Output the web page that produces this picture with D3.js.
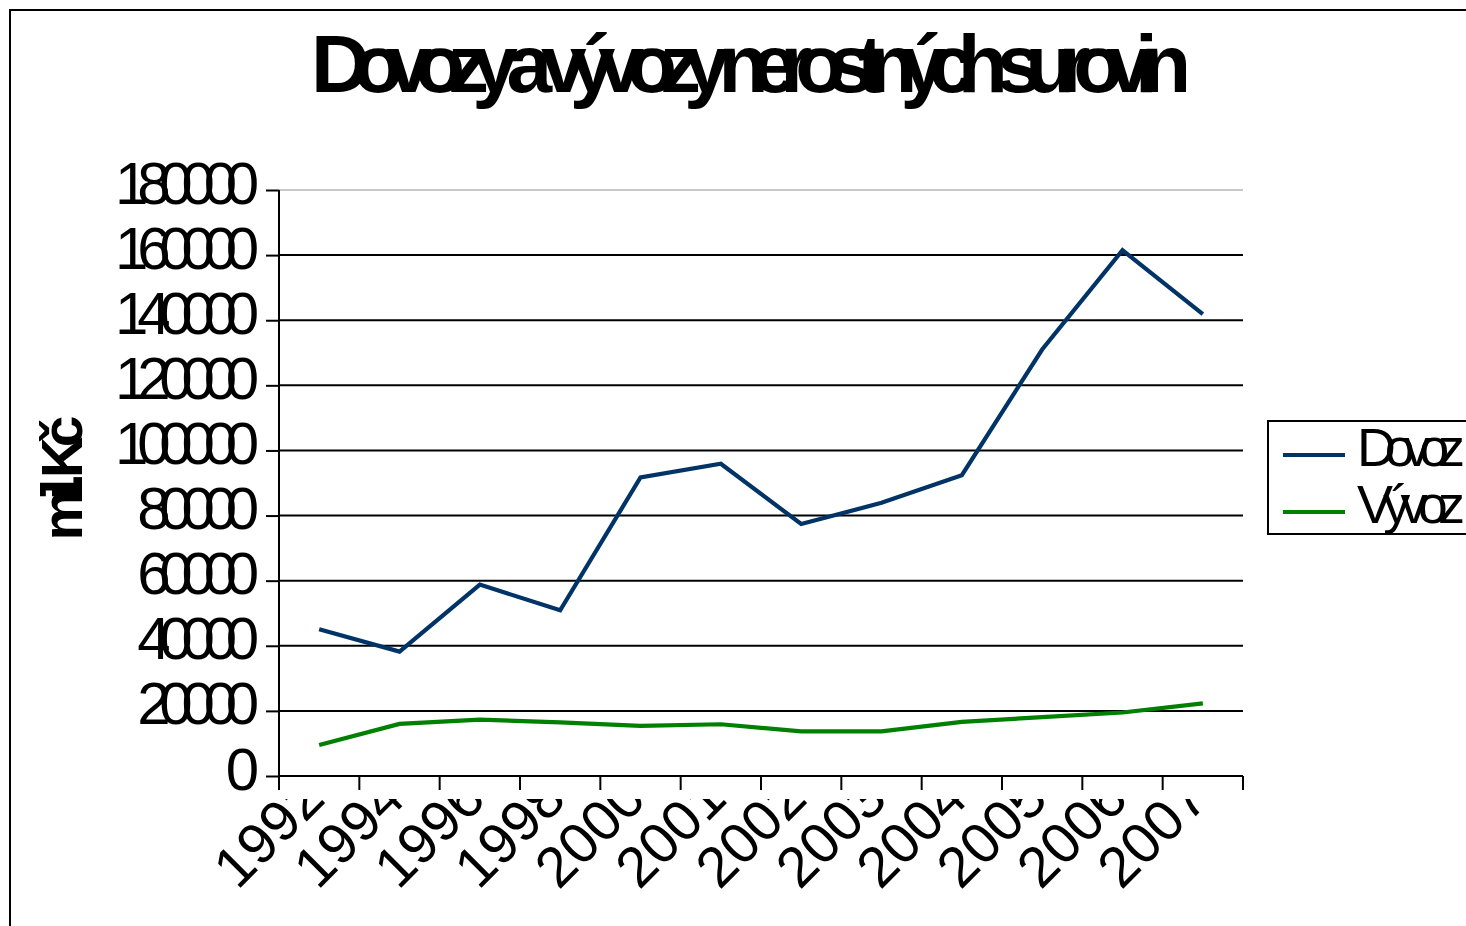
<!DOCTYPE html>
<html>
<head>
<meta charset="utf-8">
<script src="https://cdn.jsdelivr.net/npm/d3@7/dist/d3.min.js"></script>
<style>
body { margin: 0; background: #fff; }
svg { display: block; }
text { font-family: "Liberation Sans", Arial, sans-serif; fill: #000; }
</style>
</head>
<body>
<script>
var years = ["1992", "1994", "1996", "1998", "2000", "2001", "2002", "2003", "2004", "2005", "2006", "2007"];
var dovoz = [45100, 38200, 58800, 50900, 91700, 95900, 77400, 83900, 92400, 131000, 161500, 141900];
var vyvoz = [9500, 16000, 17300, 16500, 15400, 15900, 13700, 13700, 16600, 18100, 19500, 22300];
var yTicks = [0, 20000, 40000, 60000, 80000, 100000, 120000, 140000, 160000, 180000];
var seriesNames = ["Dovoz", "Vývoz"];
var seriesColors = ["#003366", "#008000"];

var w = 1466;
var h = 926;
var plotLeft = 279, plotRight = 1243, plotTop = 190, plotBottom = 776;

var svg = d3.select("body")
	.append("svg")
	.attr("width", w)
	.attr("height", h);

var x = d3.scaleBand()
	.domain(years)
	.range([plotLeft, plotRight]);

var y = d3.scaleLinear()
	.domain([0, 180000])
	.range([plotBottom, plotTop]);

// outer frame (only left and top edges fall inside the picture)
svg.append("path")
	.attr("d", "M10," + h + "V10H" + w)
	.attr("fill", "none")
	.attr("stroke", "#000")
	.attr("stroke-width", 2);

// title
svg.append("text")
	.attr("x", 751)
	.attr("y", 92)
	.attr("text-anchor", "middle")
	.attr("font-size", 82)
	.attr("font-weight", "bold")
	.attr("textLength", 880)
	.attr("lengthAdjust", "spacing")
	.text("Dovozy a vývozy nerostných surovin");

// gridlines
svg.selectAll("line.grid")
	.data(yTicks.slice(1))
	.enter()
	.append("line")
	.attr("class", "grid")
	.attr("x1", plotLeft)
	.attr("x2", plotRight)
	.attr("y1", function(d) { return y(d); })
	.attr("y2", function(d) { return y(d); })
	.attr("stroke", function(d) { return d == 180000 ? "#c8c8c8" : "#000"; })
	.attr("stroke-width", 2);

// y axis
var yAxis = svg.append("g")
	.attr("transform", "translate(" + plotLeft + ",0)")
	.call(d3.axisLeft(y).tickValues(yTicks).tickSize(13).tickFormat(d3.format("d")));
yAxis.select(".domain").attr("stroke-width", 2).attr("d", "M0," + plotTop + "V" + plotBottom);
yAxis.selectAll(".tick line").attr("stroke-width", 2);
yAxis.selectAll(".tick text")
	.attr("x", -31)
	.attr("dy", 13)
	.attr("font-size", 60)
	.attr("letter-spacing", -11.2)
	.attr("font-family", "Liberation Sans, Arial, sans-serif");

// x axis with boundary ticks
svg.append("line")
	.attr("x1", plotLeft).attr("x2", plotRight)
	.attr("y1", plotBottom).attr("y2", plotBottom)
	.attr("stroke", "#000").attr("stroke-width", 2);

svg.selectAll("line.xtick")
	.data(years.concat(["end"]))
	.enter()
	.append("line")
	.attr("class", "xtick")
	.attr("x1", function(d, i) { return plotLeft + i * x.step(); })
	.attr("x2", function(d, i) { return plotLeft + i * x.step(); })
	.attr("y1", plotBottom)
	.attr("y2", plotBottom + 14)
	.attr("stroke", "#000")
	.attr("stroke-width", 2);

// category labels, cut off at the top like the original
svg.append("clipPath")
	.attr("id", "labclip")
	.append("rect")
	.attr("x", 0).attr("y", 799)
	.attr("width", w).attr("height", h - 799);

svg.append("g")
	.attr("clip-path", "url(#labclip)")
	.selectAll("text")
	.data(years)
	.enter()
	.append("text")
	.attr("text-anchor", "end")
	.attr("font-size", 57)
	.attr("transform", function(d) {
		return "translate(" + (x(d) + x.bandwidth() / 2 + 8) + ",801) rotate(-45)";
	})
	.text(function(d) { return d; });

// y axis title
svg.append("text")
	.attr("transform", "translate(82,478) rotate(-90)")
	.attr("text-anchor", "middle")
	.attr("font-size", 57)
	.attr("font-weight", "bold")
	.attr("textLength", 125)
	.attr("lengthAdjust", "spacing")
	.text("mil. Kč");

// lines
var line = d3.line()
	.x(function(d, i) { return x(years[i]) + x.bandwidth() / 2; })
	.y(function(d) { return y(d); });

svg.selectAll("path.series")
	.data([dovoz, vyvoz])
	.enter()
	.append("path")
	.attr("class", "series")
	.attr("d", line)
	.attr("fill", "none")
	.attr("stroke", function(d, i) { return seriesColors[i]; })
	.attr("stroke-width", 4.2);

// legend
var legend = svg.append("g");
legend.append("rect")
	.attr("x", 1268).attr("y", 421)
	.attr("width", 260).attr("height", 113)
	.attr("fill", "#fff")
	.attr("stroke", "#000")
	.attr("stroke-width", 2);

var item = legend.selectAll("g.item")
	.data(seriesNames)
	.enter()
	.append("g")
	.attr("class", "item")
	.attr("transform", function(d, i) { return "translate(0," + (455 + i * 57) + ")"; });

item.append("line")
	.attr("x1", 1283).attr("x2", 1345)
	.attr("y1", 0).attr("y2", 0)
	.attr("stroke", function(d, i) { return seriesColors[i]; })
	.attr("stroke-width", 4.2);

item.append("text")
	.attr("x", 1357)
	.attr("y", 11)
	.attr("font-size", 54)
	.attr("textLength", 108)
	.attr("lengthAdjust", "spacing")
	.text(function(d) { return d; });
</script>
</body>
</html>
